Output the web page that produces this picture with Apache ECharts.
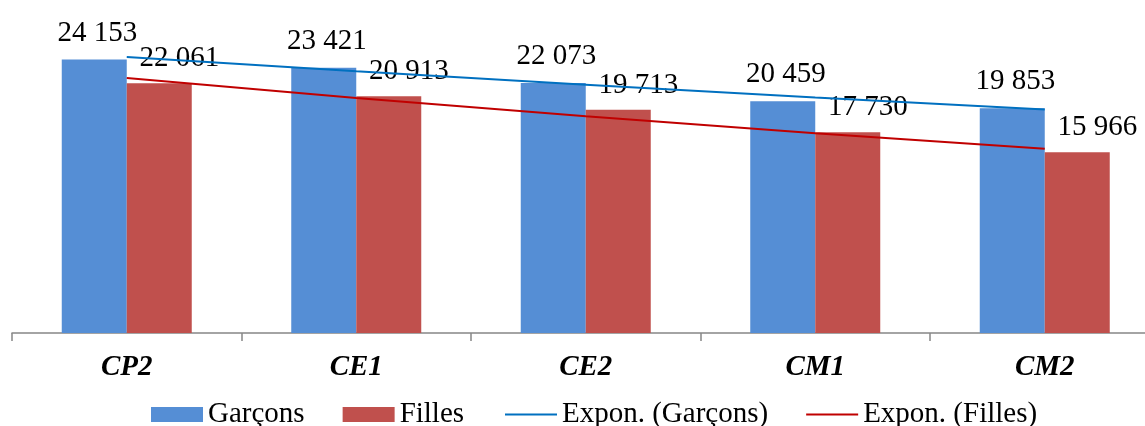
<!DOCTYPE html>
<html>
<head>
<meta charset="utf-8">
<script src="https://cdn.jsdelivr.net/npm/echarts@6/dist/echarts.min.js"></script>
<style>
html,body{margin:0;padding:0;background:#fff;overflow:hidden;width:1145px;height:426px;}
#chart{width:1180px;height:426px;}
</style>
</head>
<body>
<div id="chart"></div>
<script>
// Data
const categories = ['CP2', 'CE1', 'CE2', 'CM1', 'CM2'];
const garcons = [24153, 23421, 22073, 20459, 19853];
const filles = [22061, 20913, 19713, 17730, 15966];
// Exponential trend lines at each category centre
const trendGarcons = [24370, 23118, 21930, 20804, 19735];
const trendFilles = [22520, 20764, 19145, 17653, 16277];

const FONT = '"Liberation Serif", "Times New Roman", serif';
const FS = 29;
function fmt(v) {
  return String(v).replace(/\B(?=(\d{3})+(?!\d))/g, ' ');
}
const legendText = { fontFamily: FONT, fontSize: FS, color: '#000' };

const chart = echarts.init(document.getElementById('chart'));
chart.setOption({
  animation: false,
  backgroundColor: '#ffffff',
  textStyle: { fontFamily: FONT },
  grid: { left: 12, top: 16, width: 1147.5, height: 317 },
  legend: [
    {
      left: 146, top: 395, itemGap: 38, itemWidth: 52, itemHeight: 15,
      textStyle: legendText,
      data: [
        { name: 'Garçons', icon: 'rect' },
        { name: 'Filles', icon: 'rect' }
      ]
    },
    {
      left: 500, top: 395, itemGap: 38, itemWidth: 52, itemHeight: 2,
      textStyle: legendText,
      data: [
        { name: 'Expon. (Garçons)', icon: 'rect' },
        { name: 'Expon. (Filles)', icon: 'rect' }
      ]
    }
  ],
  xAxis: {
    type: 'category',
    data: categories,
    axisLine: { lineStyle: { color: '#868686', width: 1.5 } },
    axisTick: { show: true, length: 8, lineStyle: { color: '#868686', width: 1.5 } },
    axisLabel: {
      fontFamily: FONT, fontSize: FS, fontWeight: 'bold', fontStyle: 'italic',
      color: '#000', margin: 20
    }
  },
  yAxis: {
    type: 'value', min: 0, max: 28000, show: false,
    splitLine: { show: false }
  },
  series: [
    {
      name: 'Garçons', type: 'bar', data: garcons,
      barWidth: 65, barGap: '0%',
      itemStyle: { color: '#558ED5' },
      label: {
        show: true, position: 'top', distance: 12, offset: [3, 0],
        fontFamily: FONT, fontSize: FS, color: '#000',
        formatter: p => fmt(p.value)
      },
      z: 2
    },
    {
      name: 'Filles', type: 'bar', data: filles,
      barWidth: 65, barGap: '0%',
      itemStyle: { color: '#C0504D' },
      label: {
        show: true, position: 'top', distance: 10, offset: [20, 0],
        fontFamily: FONT, fontSize: FS, color: '#000',
        formatter: p => fmt(p.value)
      },
      z: 2
    },
    {
      name: 'Expon. (Garçons)', type: 'line', data: trendGarcons,
      symbol: 'none', showSymbol: false,
      lineStyle: { color: '#0070C0', width: 2 },
      itemStyle: { color: '#0070C0' }, z: 3
    },
    {
      name: 'Expon. (Filles)', type: 'line', data: trendFilles,
      symbol: 'none', showSymbol: false,
      lineStyle: { color: '#C00000', width: 2 },
      itemStyle: { color: '#C00000' }, z: 3
    }
  ]
});
</script>
</body>
</html>
